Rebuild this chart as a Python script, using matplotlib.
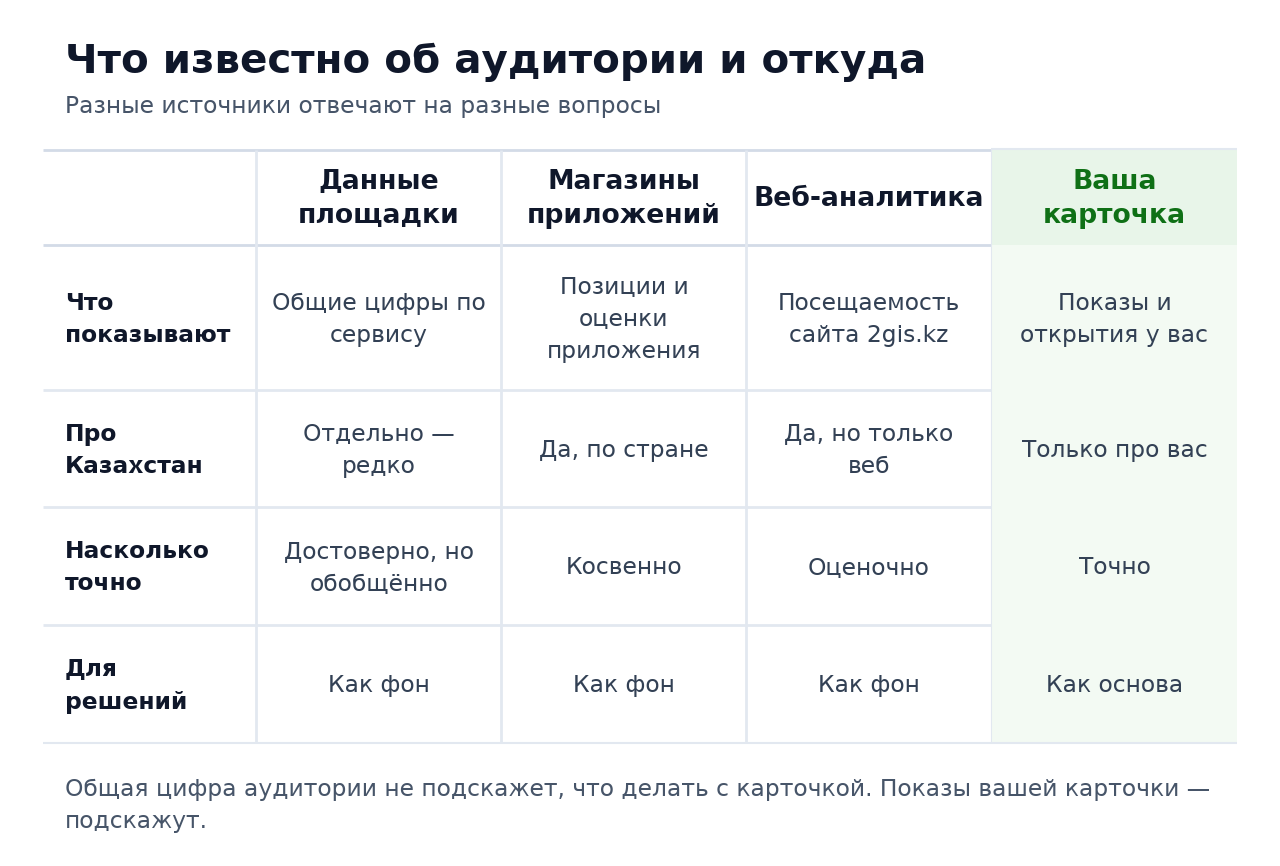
import matplotlib
matplotlib.use("Agg")
import matplotlib.pyplot as plt
from matplotlib.patches import Rectangle

plt.rcParams["font.family"] = ["DejaVu Sans"]
plt.rcParams["text.hinting"] = "no_autohint"
plt.rcParams["text.hinting_factor"] = 8

title = "Что известно об аудитории и откуда"
subtitle = "Разные источники отвечают на разные вопросы"
footer = ["Общая цифра аудитории не подскажет, что делать с карточкой. Показы вашей карточки —",
          "подскажут."]

columns = [["Данные", "площадки"], ["Магазины", "приложений"], ["Веб-аналитика"], ["Ваша", "карточка"]]
rows = [["Что", "показывают"], ["Про", "Казахстан"], ["Насколько", "точно"], ["Для", "решений"]]
cells = [
    [["Общие цифры по", "сервису"], ["Позиции и", "оценки", "приложения"], ["Посещаемость", "сайта 2gis.kz"], ["Показы и", "открытия у вас"]],
    [["Отдельно —", "редко"], ["Да, по стране"], ["Да, но только", "веб"], ["Только про вас"]],
    [["Достоверно, но", "обобщённо"], ["Косвенно"], ["Оценочно"], ["Точно"]],
    [["Как фон"], ["Как фон"], ["Как фон"], ["Как основа"]],
]

# table geometry in pixels
col_edges = [43, 256, 501, 746, 991, 1237]
row_edges = [150, 245, 390, 507, 625, 742]

DARK = "#0f172a"
BODY = "#334155"
MUTED = "#475569"
GREEN = "#0f7016"
LINE_HEAD = "#d3dbe7"
LINE = "#e2e8f0"
FILL_HEAD = "#e8f5e9"
FILL_BODY = "#f3faf3"

fig = plt.figure(figsize=(12.8, 8.66), dpi=100, facecolor="white")
ax = fig.add_axes([0, 0, 1, 1])
ax.set_xlim(0, 1280)
ax.set_ylim(866, 0)
ax.axis("off")


def put_lines(x, yc, lines, step, **kw):
    # block of lines centred on yc, step = line height in px
    top = yc - step * (len(lines) - 1) / 2
    for i, s in enumerate(lines):
        ax.text(x, top + i * step, s, va="center_baseline", **kw)


# green column
ax.add_patch(Rectangle((col_edges[4], row_edges[0]), col_edges[5] - col_edges[4], row_edges[1] - row_edges[0],
                       fc=FILL_HEAD, ec="none", zorder=1))
ax.add_patch(Rectangle((col_edges[4], row_edges[1]), col_edges[5] - col_edges[4], row_edges[5] - row_edges[1],
                       fc=FILL_BODY, ec="none", zorder=1))

# grid lines
ax.plot([col_edges[0], col_edges[4]], [row_edges[0] - 0.5] * 2, color=LINE_HEAD, lw=2.0, zorder=2, solid_capstyle="butt")
ax.plot([col_edges[4], col_edges[5]], [row_edges[0] - 1] * 2, color=LINE, lw=1.5, zorder=2, solid_capstyle="butt")
ax.plot([col_edges[0], col_edges[4]], [row_edges[1]] * 2, color=LINE_HEAD, lw=2.0, zorder=2, solid_capstyle="butt")
for y in row_edges[2:5]:
    ax.plot([col_edges[0], col_edges[4]], [y, y], color=LINE, lw=2.0, zorder=2, solid_capstyle="butt")
ax.plot([col_edges[0], col_edges[5]], [row_edges[5] + 0.5] * 2, color=LINE, lw=1.5, zorder=2, solid_capstyle="butt")
for x in col_edges[1:4]:
    ax.plot([x, x], [row_edges[0], row_edges[5]], color=LINE, lw=2.0, zorder=2, solid_capstyle="butt")
ax.plot([col_edges[4]] * 2, [row_edges[0], row_edges[5]], color=LINE, lw=0.8, zorder=2)

# title block
ax.text(65, 58, title, fontsize=29.1, fontweight="bold", color=DARK, va="center_baseline")
ax.text(65, 104, subtitle, fontsize=16.8, color=MUTED, va="center_baseline")

# header
for j, lines in enumerate(columns):
    xc = (col_edges[j + 1] + col_edges[j + 2]) / 2 + 0.5
    put_lines(xc, 195.5, lines, 34.5, ha="center", fontsize=19.2, fontweight="bold",
              color=GREEN if j == 3 else DARK, zorder=3)

# body
for i, row in enumerate(cells):
    yc = (row_edges[i + 1] + row_edges[i + 2]) / 2
    put_lines(65, yc, rows[i], 32, ha="left", fontsize=16.8, fontweight="bold", color=DARK, zorder=3)
    for j, lines in enumerate(row):
        xc = (col_edges[j + 1] + col_edges[j + 2]) / 2 + 0.5
        put_lines(xc, yc, lines, 32, ha="center", fontsize=16.8, color=BODY, zorder=3)

# footer
put_lines(65, 803.5, footer, 32, ha="left", fontsize=16.8, color=MUTED)

fig.savefig("out.png", dpi=100, facecolor="white")
